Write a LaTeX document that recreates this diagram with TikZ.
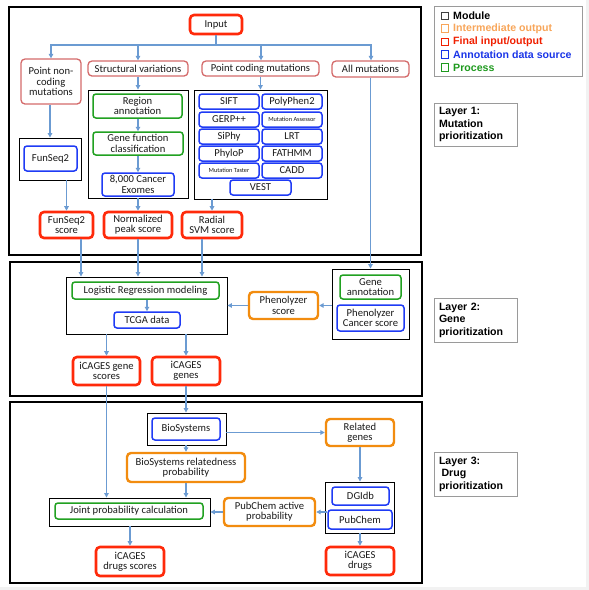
\documentclass[tikz,border=0pt]{standalone}
\usepackage{fontspec}
\setmainfont{Carlito}
\newfontfamily\legfont{Liberation Sans}
\usetikzlibrary{arrows.meta}
\definecolor{finc}{HTML}{FF2A0A}
\definecolor{intc}{HTML}{F28C0F}
\definecolor{pinkc}{HTML}{D46A6A}
\definecolor{bluec}{HTML}{1F3BF5}
\definecolor{greenc}{HTML}{21A121}
\definecolor{arrc}{HTML}{6B9BD2}
\definecolor{txtc}{HTML}{1A1A1A}
\definecolor{legorange}{HTML}{F8A65A}
\definecolor{legred}{HTML}{F02000}
\definecolor{legblue}{HTML}{1A35E8}
\definecolor{leggreen}{HTML}{1E9A1E}
\definecolor{graybd}{HTML}{9A9A9A}
\newcommand\bx[7]{\node[#6,minimum width={(#4-#2)*1pt},minimum height={(#5-#3)*1pt}] (#1) at ({(#2+#4)/2},{(#3+#5)/2}) {#7};}
\tikzset{
  base/.style={rectangle,inner sep=0pt,align=center,text=txtc,font=\fontsize{10.6}{10.3}\selectfont},
  finalbox/.style={base,draw=finc,line width=2.6pt,rounded corners=4pt},
  interbox/.style={base,draw=intc,line width=2.4pt,rounded corners=4pt},
  inbox/.style={base,draw=pinkc,line width=1.3pt,rounded corners=4pt},
  databox/.style={base,draw=bluec,line width=1.5pt,rounded corners=3pt},
  procbox/.style={base,draw=greenc,line width=1.5pt,rounded corners=3pt},
  modbox/.style={base,draw=black,line width=0.9pt},
  layerbox/.style={rectangle,draw=black,line width=2.8pt,inner sep=0pt},
  labelbox/.style={rectangle,draw=graybd,line width=0.9pt,inner sep=0pt,align=left,text width=73pt,font=\legfont\bfseries\fontsize{10.6}{12.5}\selectfont},
  legtext/.style={anchor=west,inner sep=0pt,font=\legfont\bfseries\fontsize{10.6}{12}\selectfont},
  legsq/.style={rectangle,draw=#1,line width=0.8pt,minimum size=7.5pt,inner sep=0pt},
  arr/.style={draw=arrc,line width=1.1pt,-{Triangle[length=4.5pt,width=4.5pt]}},
  ln/.style={draw=arrc,line width=1.1pt}
}
\begin{document}
\begin{tikzpicture}[x=1pt,y=-1pt]
\useasboundingbox (0,0) rectangle (589,590);
\fill[white] (0,0) rectangle (589,590);
\fill[black!5] (586,0) rectangle (589,590);
\fill[black!5] (0,587) rectangle (589,590);
% layers
\bx{layerA}{9}{7}{421}{255}{layerbox}{}
\bx{layerB}{10}{262}{422}{396}{layerbox}{}
\bx{layerC}{10}{402}{422}{583}{layerbox}{}
% legend
\bx{legend}{434}{6}{582}{76}{rectangle,draw=graybd,line width=0.9pt}{}
\node[legsq=black!75] (sqA) at (445,16) {};
\node[legsq=legorange] (sqB) at (445,28.5) {};
\node[legsq=legred] (sqC) at (445,42) {};
\node[legsq=legblue] (sqD) at (445,54.5) {};
\node[legsq=leggreen] (sqE) at (445,67.5) {};
\node[legtext,text=black] (lgA) at (453,16) {Module};
\node[legtext,text=legorange] (lgB) at (453,28.5) {Intermediate output};
\node[legtext,text=legred] (lgC) at (453,42) {Final input/output};
\node[legtext,text=legblue] (lgD) at (453,54.5) {Annotation data source};
\node[legtext,text=leggreen] (lgE) at (453,67.5) {Process};
\bx{labA}{434}{103}{517}{146}{labelbox}{Layer 1:\\Mutation\\prioritization}
\bx{labB}{434}{298}{517}{342}{labelbox}{Layer 2:\\Gene\\prioritization}
\bx{labC}{434}{452}{517}{496}{labelbox}{Layer 3:\\\hspace*{2.5pt}Drug\\prioritization}
% layer 1
\bx{input}{190}{15}{242}{34}{finalbox}{Input}
\bx{pnc}{21}{59}{81}{104}{inbox}{Point non-\\coding\\mutations}
\bx{sv}{88}{61}{188}{76}{inbox}{Structural variations}
\bx{pcm}{202}{61}{319}{76}{inbox}{Point coding mutations}
\bx{allm}{332}{61}{409}{77}{inbox}{All mutations}
\bx{fsmod}{19}{138}{81}{180}{modbox}{}
\bx{funseq}{24}{146}{77}{171}{databox}{FunSeq2}
\bx{svmod}{88}{90}{188}{198}{modbox}{}
\bx{region}{93}{94}{182}{118}{procbox}{Region\\annotation}
\bx{genefunc}{93}{132}{183}{155}{procbox}{Gene function\\classification}
\bx{exomes}{102}{173}{174}{196}{databox}{8,000 Cancer\\Exomes}
\bx{pcmod}{194}{90}{327}{199}{modbox}{}
\bx{sift}{199}{94}{259}{109}{databox}{SIFT}
\bx{polyphen}{262}{94}{322}{109}{databox}{PolyPhen2}
\bx{gerp}{199}{112}{259}{127}{databox}{GERP++}
\bx{massess}{262}{112}{322}{127}{databox,font=\fontsize{6.3}{7}\selectfont}{Mutation Assessor}
\bx{siphy}{199}{129}{259}{144}{databox}{SiPhy}
\bx{lrt}{262}{129}{322}{144}{databox}{LRT}
\bx{phylop}{199}{146}{259}{161}{databox}{PhyloP}
\bx{fathmm}{262}{146}{322}{161}{databox}{FATHMM}
\bx{mtaster}{199}{163}{259}{178}{databox,font=\fontsize{6.3}{7}\selectfont}{Mutation Taster}
\bx{cadd}{262}{163}{322}{178}{databox}{CADD}
\bx{vest}{230}{180}{291}{195}{databox}{VEST}
\bx{fsscore}{40}{212}{93}{238}{finalbox}{FunSeq2\\score}
\bx{npscore}{104}{212}{172}{238}{finalbox}{Normalized\\peak score}
\bx{svmscore}{182}{212}{242}{238}{finalbox}{Radial\\SVM score}
% layer 2
\bx{lrmod}{66}{277}{227}{334}{modbox}{}
\bx{lrm}{72}{282}{219}{299}{procbox}{Logistic Regression modeling}
\bx{tcga}{114}{312}{180}{328}{databox}{TCGA data}
\bx{pscore}{249}{292}{318}{319}{interbox}{Phenolyzer\\score}
\bx{gmod}{332}{269}{409}{339}{modbox}{}
\bx{geneann}{340}{275}{401}{299}{procbox}{Gene\\annotation}
\bx{pcs}{337}{305}{404}{331}{databox}{Phenolyzer\\Cancer score}
\bx{gscores}{73}{357}{140}{385}{finalbox}{iCAGES gene\\scores}
\bx{genes}{152}{357}{220}{385}{finalbox}{iCAGES\\genes}
% layer 3
\bx{biomod}{147}{413}{226}{445}{modbox}{}
\bx{biosys}{152}{418}{220}{440}{databox}{BioSystems}
\bx{relgenes}{326}{419}{394}{446}{interbox}{Related\\genes}
\bx{brp}{127}{453}{245}{482}{interbox}{BioSystems relatedness\\probability}
\bx{jointmod}{49}{498}{210}{526}{modbox}{}
\bx{joint}{55}{503}{203}{519}{procbox}{Joint probability calculation}
\bx{pcap}{224}{498}{315}{526}{interbox}{PubChem active\\probability}
\bx{drugmod}{325}{482}{394}{533}{modbox}{}
\bx{dgidb}{332}{487}{389}{505}{databox}{DGIdb}
\bx{pubchem}{328}{510}{392}{529}{databox}{PubChem}
\bx{dscores}{96}{547}{164}{576}{finalbox}{iCAGES\\drugs scores}
\bx{drugs}{326}{547}{394}{575}{finalbox}{iCAGES\\drugs}
% connectors layer 1
\coordinate (split) at (216,45);
\draw[ln] (input.south) -- (split);
\draw[arr] (split) -| (pnc.north);
\draw[arr] (split) -| (sv.north);
\draw[arr] (split) -| ([xshift=0.5pt]pcm.north);
\draw[arr] (split) -| ([xshift=0.5pt]allm.north);
\draw[arr] (pnc.south -| fsmod.north) -- (fsmod.north);
\draw[arr] (sv.south) -- (sv.south |- svmod.north);
\draw[arr] (pcm.south) -- (pcm.south |- pcmod.north);
\draw[arr] (region.south -| genefunc.north) -- (genefunc.north);
\draw[arr] (genefunc.south -| exomes.north) -- (exomes.north);
\draw[arr] (fsscore.north |- fsmod.south) -- (fsscore.north);
\draw[arr] (npscore.north |- svmod.south) -- (npscore.north);
\draw[arr] (svmscore.north |- pcmod.south) -- (svmscore.north);
% layer 1 -> layer 2
\draw[arr] ([xshift=14.5pt]fsscore.south) -- ([xshift=14.5pt]fsscore.south |- lrmod.north);
\draw[arr] (npscore.south) -- (npscore.south |- lrmod.north);
\draw[arr] ([xshift=-10pt]svmscore.south) -- ([xshift=-10pt]svmscore.south |- lrmod.north);
\draw[arr] (allm.south) -- (allm.south |- gmod.north);
% layer 2
\draw[arr] (lrm.south -| tcga.north) -- (tcga.north);
\draw[arr] (pscore.west) -- (pscore.west -| lrmod.east);
\draw[arr] (pscore.east -| gmod.west) -- (pscore.east);
\draw[arr] (gscores.north |- lrmod.south) -- (gscores.north);
\draw[arr] (genes.north |- lrmod.south) -- (genes.north);
% layer 2 -> layer 3
\draw[arr] (gscores.south) -- (gscores.south |- jointmod.north);
\draw[arr] (genes.south) -- (genes.south |- biomod.north);
% layer 3
\draw[arr] (relgenes.west -| biomod.east) -- (relgenes.west);
\draw[arr] (biomod.south -| brp.north) -- (brp.north);
\draw[arr] (brp.south) -- (brp.south |- jointmod.north);
\draw[arr] (pcap.west) -- (pcap.west -| jointmod.east);
\draw[arr] (relgenes.south) -- (relgenes.south |- drugmod.north);
\draw[arr] (pcap.east -| pubchem.west) -- (pcap.east);
\draw[arr] (drugmod.south -| drugs.north) -- (drugs.north);
\draw[arr] (jointmod.south -| dscores.north) -- (dscores.north);
\end{tikzpicture}
\end{document}
